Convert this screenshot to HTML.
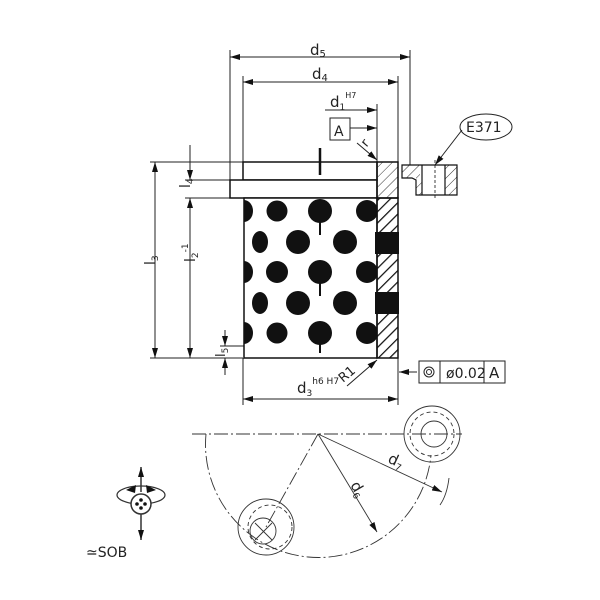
<!DOCTYPE html><html><head><style>body{margin:0;background:#fff}svg{display:block}text{font-family:"DejaVu Sans","Liberation Sans",sans-serif;fill:#222}</style></head><body>
<svg width="600" height="600" viewBox="0 0 600 600" xmlns="http://www.w3.org/2000/svg">
<defs>
<marker id="a" markerWidth="10" markerHeight="6" refX="10" refY="3" orient="auto-start-reverse" markerUnits="userSpaceOnUse"><path d="M0,0 L10,3 L0,6z" fill="#111"/></marker>
<pattern id="h" width="7" height="7" patternUnits="userSpaceOnUse" patternTransform="rotate(45)"><line x1="0" y1="0" x2="0" y2="7" stroke="#333" stroke-width="1"/></pattern>
<pattern id="h2" width="8" height="8" patternUnits="userSpaceOnUse" patternTransform="rotate(45)"><line x1="0" y1="0" x2="0" y2="8" stroke="#111" stroke-width="2.5"/></pattern>
<clipPath id="body"><rect x="244" y="198" width="133" height="160"/></clipPath>
</defs>
<g stroke="#222" fill="none" stroke-width="1">
<line x1="230" y1="50" x2="230" y2="180"/><line x1="243" y1="76" x2="243" y2="162"/>
<line x1="410" y1="50" x2="410" y2="165"/><line x1="398" y1="76" x2="398" y2="162"/>
<line x1="377" y1="104" x2="377" y2="162"/>
<line x1="150" y1="162" x2="243" y2="162"/><line x1="150" y1="358" x2="243" y2="358"/>
<line x1="185" y1="180" x2="230" y2="180"/><line x1="185" y1="198" x2="243" y2="198"/>
<line x1="220" y1="346" x2="244" y2="346"/>
<line x1="243" y1="358" x2="243" y2="405"/><line x1="398" y1="358" x2="398" y2="405"/>
<line x1="230" y1="57" x2="410" y2="57" marker-start="url(#a)" marker-end="url(#a)"/>
<line x1="243" y1="82" x2="398" y2="82" marker-start="url(#a)" marker-end="url(#a)"/>
<line x1="325" y1="110" x2="377" y2="110" marker-end="url(#a)"/>
<line x1="350" y1="128" x2="377" y2="128" marker-end="url(#a)"/>
<line x1="155" y1="162" x2="155" y2="358" marker-start="url(#a)" marker-end="url(#a)"/>
<line x1="190" y1="198" x2="190" y2="358" marker-start="url(#a)" marker-end="url(#a)"/>
<line x1="190" y1="145" x2="190" y2="180" marker-end="url(#a)"/>
<line x1="225" y1="330" x2="225" y2="346" marker-end="url(#a)"/>
<line x1="225" y1="375" x2="225" y2="358" marker-end="url(#a)"/>
<line x1="243" y1="399" x2="398" y2="399" marker-start="url(#a)" marker-end="url(#a)"/>
<line x1="357" y1="143" x2="377" y2="160" marker-end="url(#a)"/>
<line x1="347" y1="386" x2="377" y2="360" marker-end="url(#a)"/>
<line x1="417" y1="372" x2="399" y2="372" marker-end="url(#a)"/>
<line x1="462" y1="130" x2="435" y2="165" marker-end="url(#a)"/>
<rect x="330" y="118" width="20" height="22"/>
<ellipse cx="486" cy="127" rx="26" ry="13"/>
<rect x="419" y="361" width="86" height="22"/><line x1="440" y1="361" x2="440" y2="383"/><line x1="484" y1="361" x2="484" y2="383"/>
<circle cx="429" cy="372" r="5"/><circle cx="429" cy="372" r="2.5"/>
</g>
<g stroke="#111" stroke-width="1.5">
<rect x="243" y="162" width="134" height="18" fill="#fff"/>
<rect x="230" y="180" width="147" height="18" fill="#fff"/>
<rect x="244" y="198" width="133" height="160" fill="#fff"/>
<g clip-path="url(#body)" stroke="none" fill="#111">
<ellipse cx="244" cy="211" rx="9" ry="11"/><circle cx="277" cy="211" r="10.5"/><circle cx="320" cy="211" r="12"/><circle cx="367" cy="211" r="11"/>
<ellipse cx="260" cy="242" rx="8" ry="11"/><circle cx="298" cy="242" r="12"/><circle cx="345" cy="242" r="12"/>
<ellipse cx="244" cy="272" rx="9" ry="11"/><circle cx="277" cy="272" r="11"/><circle cx="320" cy="272" r="12"/><circle cx="367" cy="272" r="11"/>
<ellipse cx="260" cy="303" rx="8" ry="11"/><circle cx="298" cy="303" r="12"/><circle cx="345" cy="303" r="12"/>
<ellipse cx="244" cy="333" rx="9" ry="11"/><circle cx="277" cy="333" r="10.5"/><circle cx="320" cy="333" r="12"/><circle cx="367" cy="333" r="11"/>
</g>
<line x1="320" y1="211" x2="320" y2="235" stroke-width="2"/><line x1="320" y1="272" x2="320" y2="296" stroke-width="2"/><line x1="320" y1="333" x2="320" y2="353" stroke-width="2"/>
<line x1="320" y1="148" x2="320" y2="175" stroke-width="2.5"/>
<path d="M377,162 H398 V198 H377z" fill="url(#h)"/>
<path d="M377,198 H398 V358 H377z" fill="url(#h2)"/>
<rect x="375" y="232" width="24" height="22" fill="#111" stroke="none"/>
<rect x="375" y="292" width="24" height="22" fill="#111" stroke="none"/>
<path d="M402,165 H420 V178 H416 V195 H402z" fill="#fff" stroke="none"/>
<rect x="402" y="165" width="18" height="13" fill="url(#h)" stroke="none"/>
<rect x="416" y="178" width="6" height="17" fill="url(#h)" stroke="none"/>
<rect x="445" y="165" width="12" height="30" fill="url(#h)" stroke="none"/>
<path d="M402,165 H457 V195 H416 V180 L412,178 H402z" fill="none" stroke-width="1.2"/>
<line x1="422" y1="165" x2="422" y2="195" stroke-width="1.2"/>
<line x1="445" y1="165" x2="445" y2="195" stroke-width="1.2"/>
<line x1="435" y1="160" x2="435" y2="200" stroke-width="0.8" stroke-dasharray="3,2"/>
</g>
<text x="310" y="55" font-size="15">d<tspan font-size="10" dy="2">5</tspan></text>
<text x="312" y="79" font-size="15">d<tspan font-size="10" dy="2">4</tspan></text>
<text x="330" y="107" font-size="15">d<tspan font-size="9" dy="3">1</tspan><tspan font-size="8" dy="-12">H7</tspan></text>
<text x="334" y="136" font-size="14">A</text>
<text x="362" y="146" font-size="13" transform="rotate(-50 366 142)">r</text>
<text x="466" y="132" font-size="14">E371</text>
<text x="446" y="378" font-size="14">ø0.02</text>
<text x="489" y="378" font-size="15">A</text>
<text x="150" y="270" font-size="14" transform="rotate(-90 150 265)">l<tspan font-size="9" dy="3">3</tspan></text>
<text x="185" y="272" font-size="14" transform="rotate(-90 185 262)">l<tspan font-size="9" dy="3">2</tspan><tspan font-size="9" dy="-10">-1</tspan></text>
<text x="185" y="193" font-size="14" transform="rotate(-90 185 188)">l<tspan font-size="9" dy="3">4</tspan></text>
<text x="220" y="362" font-size="13" transform="rotate(-90 220 357)">l<tspan font-size="9" dy="3">5</tspan></text>
<text x="297" y="393" font-size="15">d<tspan font-size="9" dy="3">3</tspan><tspan font-size="9" dy="-12">h6 H7</tspan></text>
<text x="343" y="383" font-size="13" transform="rotate(-40 343 383)">R1</text>
<g stroke="#333" fill="none" stroke-width="0.9">
<line x1="192" y1="434" x2="462" y2="434" stroke-dasharray="14,3,2,3"/>
<path d="M206,434 A112,112 0 0 0 431,455" stroke-dasharray="14,3,2,3"/>
<line x1="318" y1="434" x2="266" y2="527" stroke-dasharray="14,3,2,3"/>
<line x1="318" y1="434" x2="377" y2="532" marker-end="url(#a)"/>
<line x1="318" y1="434" x2="442" y2="492" marker-end="url(#a)"/>
<path d="M449,478 Q447,495 440,505"/>
<circle cx="432" cy="434" r="28"/><circle cx="432" cy="434" r="22" stroke-dasharray="4,3"/><circle cx="434" cy="434" r="13"/>
<circle cx="266" cy="527" r="28"/><circle cx="270" cy="527" r="22" stroke-dasharray="4,3"/><circle cx="263" cy="531" r="13"/>
<line x1="255" y1="523" x2="272" y2="540"/><line x1="255" y1="540" x2="272" y2="523"/>
<ellipse cx="141" cy="495" rx="24" ry="9" stroke-width="1.2"/>
<circle cx="141" cy="504" r="10" fill="#fff" stroke-width="1.5"/>
<line x1="141" y1="492" x2="141" y2="467" marker-end="url(#a)" stroke-width="1.5"/>
<line x1="141" y1="514" x2="141" y2="540" marker-end="url(#a)" stroke-width="1.5"/>
</g>
<g fill="#111"><circle cx="141" cy="500" r="1.8"/><circle cx="137" cy="504" r="1.8"/><circle cx="145" cy="504" r="1.8"/><circle cx="141" cy="508" r="1.8"/>
<path d="M126,490 l10,-5 l-1,8z"/><path d="M156,490 l-10,-5 l1,8z"/></g>
<text x="387" y="462" font-size="15" transform="rotate(25 387 462)">d<tspan font-size="9" dy="3">7</tspan></text>
<text x="350" y="485" font-size="15" transform="rotate(60 350 485)">d<tspan font-size="9" dy="3">6</tspan></text>
<text x="86" y="557" font-size="14">≃SOB</text>
</svg></body></html>
